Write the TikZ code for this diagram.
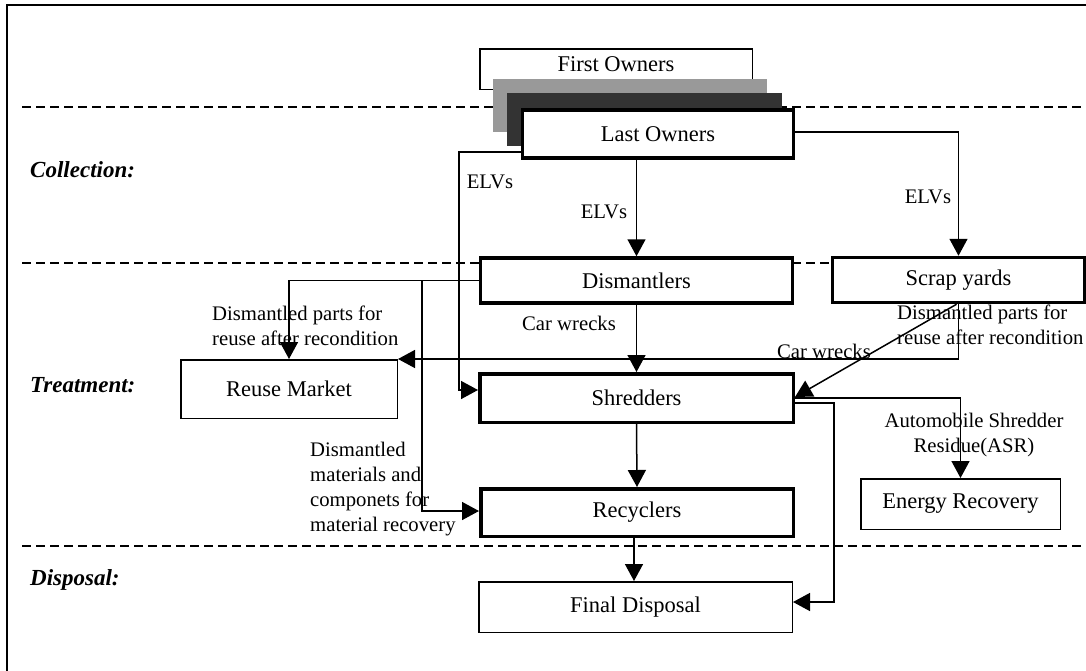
\documentclass[tikz,border=0pt]{standalone}
\usepackage{fontspec}
\setmainfont{Liberation Serif}
\usetikzlibrary{arrows.meta}
\begin{document}
\begin{tikzpicture}[x=1pt,y=-1pt,
  thinbox/.style={draw, line width=1.5pt, fill=white, inner sep=0pt, font=\fontsize{22.5}{26}\selectfont},
  thickbox/.style={draw, line width=3.5pt, fill=white, inner sep=0pt, font=\fontsize{22.5}{26}\selectfont},
  lbl/.style={font=\fontsize{20.7}{25}\selectfont, inner sep=0pt, align=left},
  cat/.style={font=\fontsize{23}{26}\selectfont\bfseries\itshape, inner sep=0pt, anchor=west},
  conn/.style={line width=1.5pt, -{Triangle[width=18pt,length=17pt]}},
  sep/.style={line width=1.5pt, dash pattern=on 9pt off 5pt}]
\useasboundingbox (0,0) rectangle (1086,670);
\clip (0,0) rectangle (1086,670);
% frame
\draw[line width=2pt] (7,700) -- (7,5) -- (1100,5);
% dashed separators
\draw[sep] (22,107) -- (1090,107);
\draw[sep] (22,263) -- (1090,263);
\draw[sep] (22,546) -- (1090,546);
% category labels
\node[cat] (ccol) at (30,170) {Collection:};
\node[cat] (ctre) at (30,385) {Treatment:};
\node[cat] (cdis) at (30,580) {Disposal:};
% owners stack
\node[thinbox, minimum width=272.5, minimum height=40.5] (first) at (616,69) {};
\node[font=\fontsize{22.5}{26}\selectfont, inner sep=0pt] (firsttxt) at (616,64) {First Owners};
\node[fill=black!40, draw=none, minimum width=274, minimum height=53, inner sep=0pt] (shadowa) at (630,105.5) {};
\node[fill=black!80, draw=none, minimum width=275, minimum height=53, inner sep=0pt] (shadowb) at (644.5,119.5) {};
\node[thickbox, minimum width=271, minimum height=48] (last) at (658,134) {Last Owners};
% boxes
\node[thickbox, minimum width=312, minimum height=45] (dism) at (636.5,280.5) {Dismantlers};
\node[thickbox, minimum width=252, minimum height=45] (scrap) at (958.5,280) {Scrap yards};
\node[thinbox, minimum width=216.5, minimum height=58.5] (reuse) at (289,389) {Reuse Market};
\node[thickbox, minimum width=313.5, minimum height=48.5] (shred) at (636.5,398) {Shredders};
\node[thinbox, minimum width=199.5, minimum height=50.5] (energy) at (960.5,504) {Energy Recovery};
\node[thickbox, minimum width=312.5, minimum height=47.5] (recy) at (637,512.5) {Recyclers};
\node[thinbox, minimum width=313.5, minimum height=50.5] (final) at (635.5,607) {Final Disposal};
% connectors
\draw[conn] (last.south -| dism.north) -- (dism.north);
\draw[conn] ([yshift=-18pt]last.west) -- ++(-62,0) |- ([yshift=8pt]shred.west);
\draw[conn] ([yshift=2pt]last.east) -| (scrap.north);
\draw[conn] (dism.west) -| (reuse.north);
\draw[conn] ([xshift=-57pt]dism.west) |- ([yshift=1.5pt]recy.west);
\draw[conn] (dism.south) -- (shred.north);
\draw[conn] (scrap.south) |- (reuse.north east);
\draw[conn] ([xshift=-2pt]scrap.south) -- ([yshift=1pt]shred.east);
\draw[conn] (shred.east) -| (energy.north);
\draw[conn] ([yshift=-5pt]shred.east) -- ++(39,0) |- ([yshift=5pt]final.east);
\draw[conn] (shred.south) -- (recy.north);
\draw[conn] ([xshift=-3pt]recy.south) -- ([xshift=-3pt]recy.south |- final.north);
% labels
\node[lbl] (elva) at (490,182) {ELVs};
\node[lbl] (elvb) at (604,212) {ELVs};
\node[lbl] (elvc) at (928,197) {ELVs};
\node[lbl, anchor=west] (partsa) at (212,325.5) {Dismantled parts for\\reuse after recondition};
\node[lbl, anchor=west] (partsb) at (897,324.5) {Dismantled parts for\\reuse after recondition};
\node[lbl] (wrecka) at (569,323) {Car wrecks};
\node[lbl] (wreckb) at (824,351) {Car wrecks};
\node[lbl, align=center] (asr) at (974,435.5) {Automobile Shredder\\Residue(ASR)};
\node[lbl, anchor=west] (mats) at (310,489.5) {Dismantled\\materials and\\componets for\\material recovery};
\end{tikzpicture}
\end{document}
